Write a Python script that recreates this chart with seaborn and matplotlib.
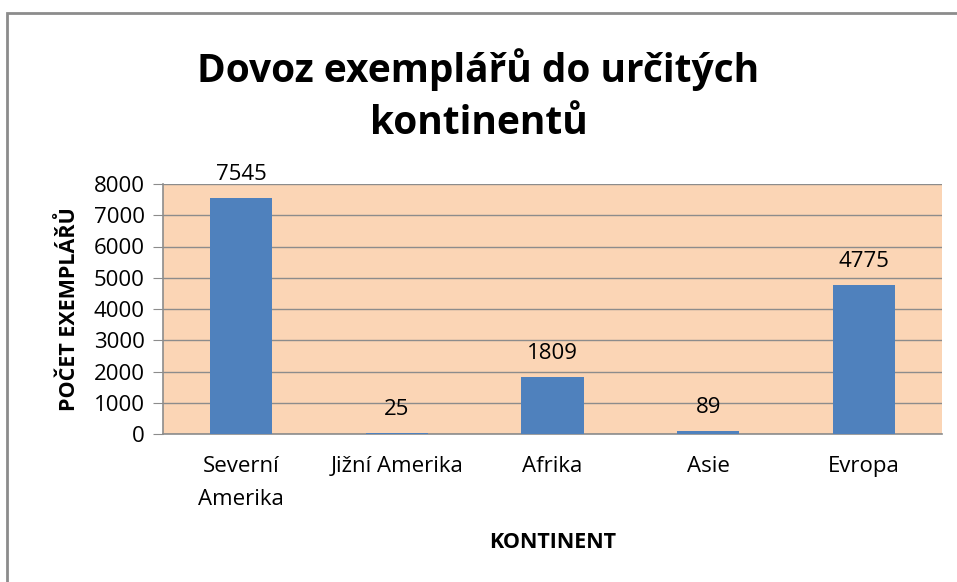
import matplotlib
matplotlib.use("Agg")
import matplotlib.pyplot as plt
import seaborn as sns
import pandas as pd
from matplotlib.patches import Rectangle

# data
kontinenty = ["Severní\nAmerika", "Jižní Amerika", "Afrika", "Asie", "Evropa"]
pocty = [7545, 25, 1809, 89, 4775]
y_ticks = [0, 1000, 2000, 3000, 4000, 5000, 6000, 7000, 8000]

df = pd.DataFrame({"kontinent": kontinenty, "pocet": pocty})

sns.set_style("white")
plt.rcParams['font.family'] = ["Open Sans", "DejaVu Sans"]
plt.rcParams['text.color'] = "black"

fig = plt.figure(figsize=(9.57, 5.82), dpi=100)
ax = fig.add_axes([163 / 957, 1 - 434 / 582, (942 - 163) / 957, (434 - 184) / 582])

sns.barplot(data=df, x="kontinent", y="pocet", color="#4F81BD", width=0.4,
            saturation=1, linewidth=0, edgecolor="#4F81BD", ax=ax, zorder=3)

ax.set_facecolor("#FBD5B5")
ax.set_ylim(0, 8000)
ax.set_yticks(y_ticks)
ax.grid(axis="y", color="#8C8C8C", linewidth=1, zorder=0)
ax.set_axisbelow(True)

for s in ["top", "right"]:
    ax.spines[s].set_visible(False)
for s in ["left", "bottom"]:
    ax.spines[s].set_color("#8C8C8C")
    ax.spines[s].set_linewidth(1.2)

ax.tick_params(axis="y", which="major", left=True, length=7, color="#8C8C8C",
               labelsize=16, pad=6, labelcolor="black")
ax.tick_params(axis="x", bottom=False, labelsize=16, pad=12, labelcolor="black")
for t in ax.get_xticklabels():
    t.set_linespacing(1.75)

# value labels
for i, v in enumerate(df["pocet"]):
    ax.text(i, v + 420, str(v), ha="center", va="bottom", fontsize=16, color="black")

ax.set_xlabel("KONTINENT", fontsize=15.5, fontweight="bold", labelpad=16, color="black")
ax.set_ylabel("POČET EXEMPLÁŘŮ", fontsize=15.5, fontweight="bold", labelpad=10, color="black")

fig.suptitle("Dovoz exemplářů do určitých\nkontinentů", fontsize=28,
             fontweight="bold", x=0.5, y=0.918, linespacing=1.45, color="black")

# outer chart border (top and left visible)
fig.patches.append(Rectangle((7 / 957, -0.1), 1.2, 1 - 13 / 582 + 0.1,
                             transform=fig.transFigure, fill=False,
                             edgecolor="#8C8C8C", linewidth=2))

fig.savefig("out.png", dpi=100)
